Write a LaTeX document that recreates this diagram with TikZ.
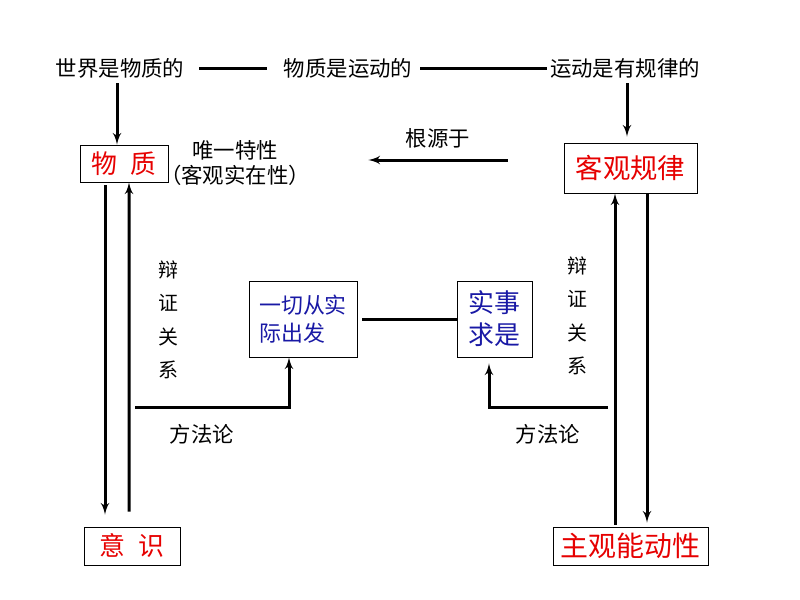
\documentclass[tikz,border=0pt]{standalone}
\usepackage{fontspec}
\setmainfont{Noto Sans CJK SC}
\usepackage{xcolor}
\usetikzlibrary{arrows,positioning}
\definecolor{boxred}{RGB}{230,0,0}
\definecolor{boxblue}{RGB}{25,25,165}

\begin{document}
\begin{tikzpicture}[>=latex',
	txt/.style={font=\fontsize{21.5}{25}\selectfont, inner sep=1bp},
	redbox/.style={draw, line width=0.8bp, text=boxred, font=\fontsize{26}{30}\selectfont},
	bluebox/.style={draw, line width=0.8bp, text=boxblue, align=left},
	link/.style={line width=3bp}]
	\useasboundingbox (0bp,0bp) rectangle (800bp,-600bp);

	\node (w1)  at (120bp,-68bp)   [txt]  {世界是物质的};
	\node (w2)  at (348bp,-68bp)   [txt]  {物质是运动的};
	\node (w3)  at (625bp,-68bp)   [txt]  {运动是有规律的};

	\node (wz)  at (124bp,-163.5bp) [redbox, minimum width=88bp, minimum height=37bp] {物\,\,\,质};
	\node (ys)  at (132bp,-546bp)   [redbox, minimum width=96bp, minimum height=38bp] {意\,\,\,识};
	\node (kg)  at (630.5bp,-168bp) [redbox, minimum width=133bp, minimum height=50bp, font=\fontsize{27.5}{30}\selectfont] {客观规律};
	\node (zg)  at (630.5bp,-546bp) [redbox, minimum width=155bp, minimum height=38bp, font=\fontsize{28}{30}\selectfont] {主观能动性};

	\node (yq)  at (303bp,-319bp)  [bluebox, minimum width=108bp, minimum height=76bp, font=\fontsize{22}{28}\selectfont] {一切从实\\际出发};
	\node (ss)  at (494.5bp,-319bp) [bluebox, minimum width=75bp, minimum height=76bp, font=\fontsize{26}{32}\selectfont] {实事\\求是};

	\node (tx)  at (235bp,-163bp)  [txt, align=center] {唯一特性\\（客观实在性）};
	\node (bzl) at (168bp,-320bp)  [txt, align=center, font=\fontsize{20}{33.5}\selectfont] {辩\\证\\关\\系};
	\node (bzr) at (577bp,-316bp)  [txt, align=center, font=\fontsize{20}{33.5}\selectfont] {辩\\证\\关\\系};
	\node (ffl) at (202bp,-434bp)  [txt] {方法论};
	\node (ffr) at (548bp,-434bp)  [txt] {方法论};

	\coordinate (l1) at (135bp,-407bp);
	\coordinate (r1) at (608bp,-407bp);

	\draw [link]  ([xshift=14bp]w1.east) -- ([xshift=-16bp]w2.west);
	\draw [link]  ([xshift=7bp]w2.east) -- ([xshift=-2bp]w3.west);
	\draw [link,->]  ([xshift=-3bp,yshift=-4bp]w1.south) -- ([xshift=-7bp]wz.north);
	\draw [link,->]  ([xshift=2bp,yshift=-4bp]w3.south) -- ([xshift=-3.5bp,yshift=6bp]kg.north);
	\draw [link,->]  ([xshift=-56bp,yshift=8bp]kg.west) -- node[txt, above=9bp] {根源于} ([xshift=200bp,yshift=3.5bp]wz.east);

	\draw [link,->]  ([xshift=-19bp,yshift=-3bp]wz.south) -- ([xshift=-27bp,yshift=12bp]ys.north);
	\draw [link,->]  ([xshift=-3bp,yshift=15bp]ys.north) -- ([xshift=5bp]wz.south);
	\draw [link,->]  ([xshift=-15.5bp,yshift=2bp]zg.north) -- ([xshift=-15.5bp]kg.south);
	\draw [link,->]  ([xshift=16.5bp]kg.south) -- ([xshift=16.5bp,yshift=4bp]zg.north);

	\draw [link,->]  (l1) -| ([xshift=-14bp]yq.south);
	\draw [link,->]  (r1) -| ([xshift=-5.5bp,yshift=-6bp]ss.south);
	\draw [link]  ([xshift=5bp]yq.east) -- (ss.west);
\end{tikzpicture}
\end{document}
